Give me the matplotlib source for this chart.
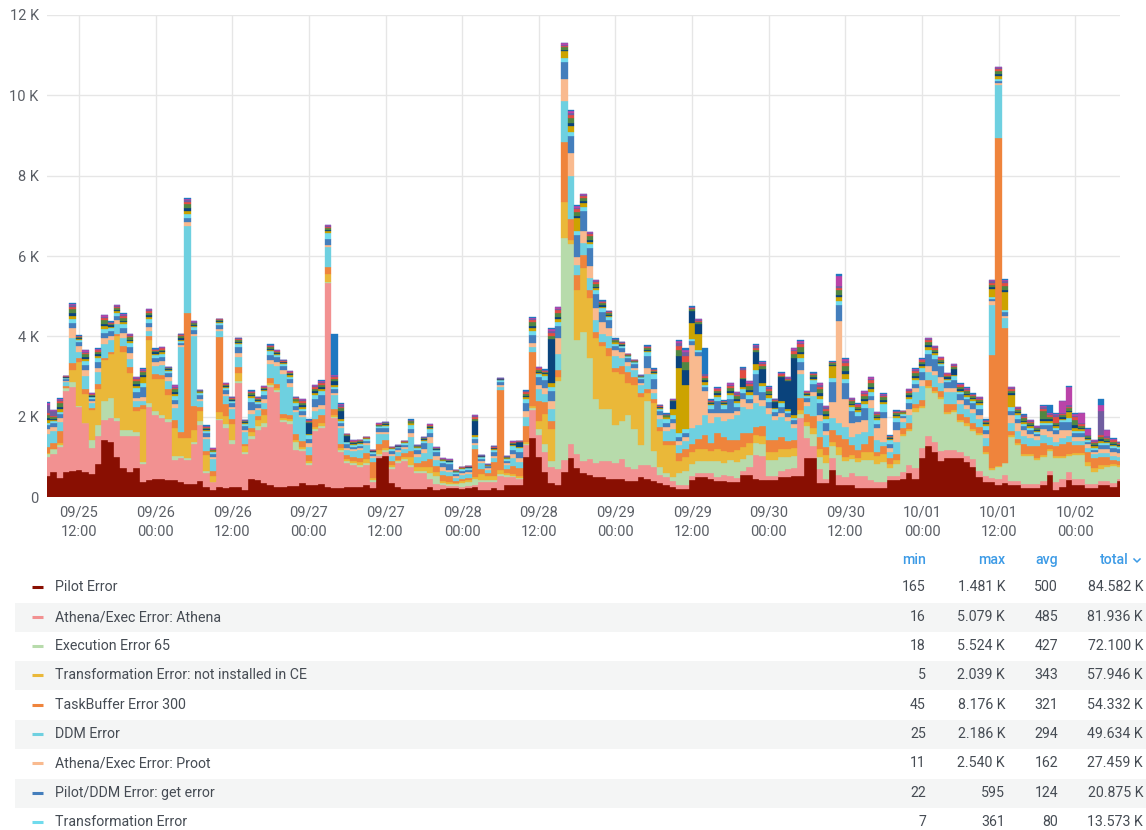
import matplotlib
matplotlib.use("Agg")
import matplotlib.pyplot as plt
import matplotlib.dates as mdates
from matplotlib.ticker import MultipleLocator, FuncFormatter
from matplotlib.patches import Rectangle
from matplotlib.lines import Line2D
import numpy as np
import pandas as pd

plt.rcParams['font.family'] = ['Roboto', 'DejaVu Sans']

# ---------------- data (hourly bars) ----------------
times = pd.date_range("2023-09-25 07:00", periods=169, freq="h")

pilot_error = [
 520,610,480,630,650,670,630,570,810,1420,
 1360,990,710,630,710,380,420,440,460,420,
 420,380,320,320,400,240,165,240,220,260,
 260,170,440,420,350,300,250,260,270,270,
 350,300,300,330,250,220,230,250,250,250,
 300,220,960,1030,350,250,200,200,200,200,
 250,180,200,220,220,200,220,250,170,170,
 230,170,300,300,300,1000,1481,1000,620,350,
 300,630,960,710,600,550,500,500,450,450,
 450,400,400,500,450,400,350,300,250,200,
 200,420,500,500,450,400,400,380,380,550,
 550,450,420,420,420,500,500,520,520,960,
 960,340,340,670,300,300,300,220,220,220,
 220,220,420,420,460,600,460,960,1270,1130,
 900,960,960,960,880,750,500,380,380,300,
 340,300,300,220,220,220,300,550,170,260,
 420,300,300,220,220,300,300,260,400]

athena_error = [
 480,460,770,2000,2090,1580,1200,650,700,500,
 600,900,800,900,800,450,1830,1600,1500,1450,
 500,600,600,1000,1400,350,200,1680,1500,1050,
 2570,900,1000,1250,1400,2440,2370,1610,1550,900,
 800,500,1350,1400,5079,1750,900,600,550,500,
 500,150,50,100,350,600,700,550,400,400,
 200,150,100,50,50,50,50,50,200,200,
 150,350,200,200,150,300,680,550,500,400,
 400,290,370,350,300,400,350,400,450,400,
 500,350,300,300,350,350,200,200,150,100,
 100,100,100,100,150,100,150,150,100,100,
 200,600,600,100,100,150,200,200,1450,500,
 300,350,100,300,250,200,300,300,300,200,
 150,150,100,100,150,200,250,250,250,250,
 250,200,200,150,150,200,150,150,100,150,
 200,100,100,100,100,100,100,100,200,200,
 200,150,150,100,100,100,100,100,50]

execution_65 = [
 70,120,50,80,130,20,20,200,280,460,
 500,80,150,150,120,50,100,100,80,80,
 100,50,50,50,100,50,20,30,100,100,
 50,50,80,100,100,50,50,50,80,200,
 50,50,50,50,20,20,50,50,50,50,
 50,50,50,50,50,50,50,50,50,50,
 150,200,50,50,50,100,100,150,50,50,
 50,50,50,30,30,30,50,150,200,150,
 2200,5524,4980,2850,3200,2500,1600,1300,1300,950,
 950,1300,1000,500,1600,400,200,100,100,300,
 350,300,300,300,300,400,300,400,400,300,
 300,300,300,400,400,350,300,300,100,300,
 300,300,400,300,500,400,350,350,400,500,
 450,500,200,300,900,850,1400,1000,1200,1200,
 1300,900,950,750,750,700,900,550,200,300,
 300,1100,900,700,700,600,600,500,600,500,
 400,600,600,450,300,300,350,400,300]

trans_not_installed = [
 30,5,50,5,300,1100,720,750,900,1040,
 1100,2039,1950,1400,500,1300,1550,800,900,600,
 700,450,500,300,250,400,150,170,200,400,
 200,150,100,150,200,50,50,50,50,50,
 50,50,50,50,200,50,50,50,50,80,
 100,50,100,50,50,30,50,200,100,100,
 150,100,50,50,30,50,50,50,150,100,
 100,100,50,50,50,50,50,200,750,800,
 100,910,100,1240,1600,1500,1500,1550,1300,1300,
 1150,800,1100,1200,200,1200,900,700,800,300,
 350,300,300,300,250,300,300,200,300,300,
 300,200,200,200,200,200,200,200,100,100,
 150,200,200,100,200,100,100,100,200,200,
 200,200,100,100,50,50,100,50,50,50,
 50,50,50,50,50,50,50,50,50,10,
 10,50,50,50,50,50,50,50,50,50,
 50,50,50,100,100,100,50,50,50]

taskbuffer_300 = [
 150,150,300,50,170,100,120,50,120,50,
 50,50,150,150,100,120,120,120,100,150,
 200,150,3100,600,100,100,100,1870,300,120,
 150,50,100,100,150,120,100,100,100,150,
 150,150,200,200,180,150,100,100,100,100,
 150,400,150,200,100,80,100,150,100,150,
 200,150,150,150,50,50,50,700,120,80,
 350,2000,100,200,200,400,1360,500,300,200,
 150,1490,500,370,330,200,150,100,200,120,
 200,250,200,100,100,100,100,100,100,200,
 200,200,250,350,200,400,350,300,250,350,
 250,200,250,300,300,300,200,200,300,200,
 300,300,200,300,300,450,250,200,200,400,
 100,200,150,150,150,150,100,150,150,100,
 150,200,150,150,150,150,150,150,2800,8176,
 3350,100,100,250,200,300,300,100,250,300,
 300,200,200,250,250,200,200,100,100]

ddm_error = [
 330,290,220,100,620,150,330,120,300,350,
 300,250,200,200,150,100,120,200,250,200,
 300,2100,2186,1750,150,300,300,150,200,250,
 250,300,350,150,150,350,450,1000,700,550,
 600,200,200,150,500,350,400,120,150,200,
 200,100,250,150,120,100,100,350,150,200,
 400,150,100,100,80,100,100,100,150,80,
 100,70,100,200,150,200,120,300,200,300,
 400,1010,1080,250,300,300,300,200,300,300,
 200,150,150,200,350,150,200,250,300,200,
 200,400,350,500,500,400,400,500,600,650,
 600,600,500,650,500,500,500,300,600,200,
 500,400,300,300,300,300,200,400,300,700,
 300,100,150,300,150,200,300,350,200,300,
 200,300,300,250,200,250,200,200,1250,1330,
 250,200,200,200,200,150,200,200,100,150,
 150,100,100,100,100,100,100,100,100]

proot_error = [
 120,100,100,30,250,150,150,50,100,150,
 100,100,120,150,80,100,80,100,100,100,
 100,50,100,50,50,50,50,50,50,50,
 100,50,100,50,100,100,100,100,100,50,
 50,100,100,100,50,50,50,50,50,50,
 50,50,50,50,50,50,50,100,80,100,
 150,100,100,50,50,50,50,50,50,30,
 50,50,50,100,100,150,100,100,150,200,
 400,560,580,210,300,300,300,300,200,150,
 150,100,50,50,150,100,100,100,150,100,
 100,2070,1700,600,250,100,200,150,100,200,
 150,200,150,150,100,100,100,100,100,100,
 100,150,100,400,2540,700,350,300,300,200,
 300,600,100,300,100,150,100,150,150,100,
 150,100,100,100,100,100,100,100,100,50,
 50,200,200,150,100,100,150,150,200,200,
 150,100,100,100,50,100,100,100,100]

get_error = [
 100,100,100,40,120,80,120,60,150,120,
 120,100,120,150,150,250,120,100,100,80,
 100,50,100,100,100,100,80,100,100,100,
 150,100,200,100,100,120,120,100,100,100,
 100,100,200,250,150,100,50,100,50,50,
 50,50,100,100,80,50,50,100,100,150,
 100,80,100,150,50,50,50,100,50,50,
 100,70,50,100,150,200,200,200,200,250,
 300,410,410,550,500,450,350,250,200,100,
 100,100,100,100,300,250,100,100,100,100,
 100,100,100,100,100,300,100,350,100,150,
 100,500,200,150,100,150,100,100,200,100,
 200,300,200,500,400,400,300,150,300,100,
 100,150,100,200,50,150,100,200,300,300,
 250,150,200,150,150,150,150,100,50,50,
 100,100,100,100,100,50,100,150,100,200,
 200,100,100,50,50,100,100,100,100]

trans_error = [
 50,50,50,30,100,50,100,30,100,100,
 80,70,100,100,100,100,100,80,70,60,
 100,50,100,50,50,50,50,50,50,50,
 80,50,100,50,100,100,50,50,50,80,
 50,100,100,100,150,50,50,50,50,50,
 50,50,50,50,50,30,50,100,50,50,
 100,50,50,50,30,50,50,50,50,20,
 50,50,50,100,100,100,100,50,100,100,
 100,100,100,80,100,100,100,100,80,50,
 50,50,50,30,100,100,50,100,100,100,
 100,50,50,50,80,100,80,100,100,100,
 100,100,150,100,80,100,50,50,100,50,
 100,100,100,100,100,100,100,100,100,100,
 100,200,100,100,50,100,100,100,100,100,
 50,50,100,50,50,50,100,100,50,50,
 50,100,100,50,50,50,50,50,50,50,
 100,50,50,50,50,50,50,50,50]

# smaller series (not visible in the cropped legend)
other_olive = [
 60,30,70,10,80,30,50,20,50,70,
 30,40,50,50,60,150,50,30,40,20,
 50,40,70,30,10,30,20,20,20,20,
 30,20,40,30,20,30,20,20,30,30,
 50,30,50,60,40,40,50,10,20,20,
 10,10,10,20,10,10,10,30,10,20,
 20,20,10,10,10,10,10,50,10,10,
 20,10,10,20,10,50,70,40,30,100,
 80,170,150,330,80,60,50,40,30,30,
 20,10,10,10,40,30,20,30,150,1600,
 1100,400,400,60,30,50,30,60,60,30,
 70,150,60,60,20,30,30,80,90,30,
 40,80,70,300,90,100,40,40,60,70,
 40,50,20,40,20,50,60,50,60,50,
 40,40,30,40,50,40,40,30,200,60,
 450,300,40,50,40,30,40,40,40,40,
 150,80,40,30,40,50,30,40,30]

other_navy = [
 50,20,50,10,60,20,40,20,40,50,
 30,30,40,40,40,40,40,30,30,20,
 40,30,60,30,10,20,20,20,20,20,
 30,20,30,20,20,30,20,10,20,20,
 40,250,40,40,30,120,200,150,20,20,
 10,10,10,10,10,10,10,20,10,20,
 20,10,10,10,10,10,10,350,10,5,
 10,10,10,20,120,30,50,30,30,1080,
 60,40,80,60,50,50,40,30,30,20,
 20,10,10,10,30,20,10,20,200,300,
 350,300,250,50,20,30,20,50,40,200,
 50,300,350,40,150,600,700,1400,60,20,
 30,60,50,20,60,80,30,30,50,60,
 30,40,20,30,10,40,40,40,50,30,
 30,30,150,30,40,30,30,20,40,50,
 50,30,30,30,30,20,40,40,30,30,
 30,60,30,20,30,40,20,30,20]

other_green = [
 90,50,90,10,100,30,70,20,60,90,
 40,50,70,60,80,60,60,40,40,20,
 70,50,110,40,20,40,20,20,30,30,
 40,20,50,30,30,40,30,20,30,40,
 60,40,60,70,50,50,80,20,30,20,
 10,10,20,20,10,10,10,30,20,20,
 30,20,20,20,20,10,10,50,10,5,
 20,10,20,30,20,60,90,50,40,90,
 100,60,120,100,80,80,70,50,40,30,
 30,20,20,10,40,40,20,30,10,150,
 220,40,50,60,40,60,30,80,80,40,
 90,70,70,80,30,40,40,100,110,30,
 50,110,90,40,110,130,60,60,80,100,
 50,70,30,50,20,60,80,60,80,60,
 50,40,50,60,60,40,50,40,70,80,
 100,60,50,60,50,40,200,60,60,50,
 60,120,60,40,50,60,50,50,30]

other_red = [
 40,30,50,10,60,20,40,20,40,50,
 20,30,40,40,40,40,40,20,30,20,
 40,30,60,20,10,20,20,20,20,20,
 20,20,30,20,20,30,20,20,20,20,
 40,20,40,40,30,30,40,10,20,20,
 10,10,10,20,10,10,10,20,10,20,
 20,10,10,10,10,10,10,30,10,5,
 20,10,10,20,10,40,50,30,20,70,
 60,40,80,60,50,50,40,30,20,20,
 20,10,10,10,30,20,20,20,10,120,
 150,30,40,50,20,40,20,50,40,200,
 50,50,60,40,20,30,30,80,70,20,
 30,60,50,20,60,80,40,30,50,60,
 30,40,20,30,20,40,40,40,50,40,
 30,30,30,40,40,30,30,20,50,50,
 70,40,30,40,30,20,60,40,150,30,
 40,70,30,20,30,40,30,30,20]

other_purple = [
 200,120,30,5,40,10,30,10,20,40,
 20,20,30,20,30,30,30,20,20,10,
 30,20,40,20,5,20,10,10,10,10,
 20,10,20,10,10,20,10,10,20,20,
 30,20,20,30,20,30,40,5,10,10,
 5,5,10,10,5,5,5,10,5,10,
 10,10,5,10,5,5,5,30,5,5,
 10,5,10,10,5,20,30,20,20,50,
 40,30,60,40,30,30,30,20,20,10,
 10,10,5,5,20,20,10,10,5,60,
 80,20,20,30,20,20,10,30,30,30,
 40,40,30,30,10,20,20,40,40,10,
 20,40,30,10,50,50,20,20,40,40,
 20,30,10,20,10,30,30,20,30,20,
 20,20,20,20,30,20,20,20,30,30,
 50,30,20,30,20,20,40,30,40,20,
 30,40,20,20,30,600,30,20,10]

other_magenta = [
 50,20,30,5,30,10,30,10,20,30,
 10,20,30,20,30,20,20,10,10,10,
 30,10,30,10,5,10,10,10,10,10,
 10,10,10,10,10,10,10,10,10,10,
 20,10,20,30,20,20,30,5,10,10,
 5,5,10,10,5,5,5,10,5,10,
 10,10,5,10,5,5,5,20,5,0,
 10,5,10,10,5,20,30,10,10,40,
 30,30,50,40,20,20,20,20,10,10,
 10,10,5,5,10,10,10,10,5,50,
 70,10,20,20,10,20,10,30,30,20,
 30,30,30,30,10,20,10,40,40,10,
 10,40,30,10,250,50,20,20,30,30,
 20,20,10,10,10,20,30,20,20,20,
 10,10,10,20,20,10,20,10,30,20,
 40,20,20,20,20,10,40,30,30,300,
 450,50,250,150,20,150,150,20,10]

other_blue = [
 30,10,20,0,20,10,10,0,10,10,
 10,10,10,10,10,10,10,10,10,0,
 10,10,10,10,0,10,0,0,0,10,
 10,0,10,10,0,10,10,0,10,10,
 10,10,10,10,10,1040,10,0,10,0,
 0,0,0,0,0,0,0,10,0,0,
 10,0,0,0,0,0,0,10,0,0,
 0,0,0,10,0,10,10,10,10,20,
 10,10,20,20,10,10,10,10,10,10,
 0,0,0,0,10,10,0,10,0,20,
 30,10,10,650,10,10,10,10,10,10,
 10,10,10,10,10,10,10,10,20,10,
 10,10,10,10,40,10,10,10,10,10,
 10,10,10,10,0,10,10,10,10,10,
 10,10,10,10,10,10,10,10,10,10,
 10,10,10,10,10,10,20,200,10,20,
 30,10,20,10,10,160,10,10,10]

legend_names = ["Pilot Error", "Athena/Exec Error: Athena", "Execution Error 65",
                "Transformation Error: not installed in CE", "TaskBuffer Error 300",
                "DDM Error", "Athena/Exec Error: Proot", "Pilot/DDM Error: get error",
                "Transformation Error"]
legend_min = ["165", "16", "18", "5", "45", "25", "11", "22", "7"]
legend_max = ["1.481 K", "5.079 K", "5.524 K", "2.039 K", "8.176 K", "2.186 K",
              "2.540 K", "595", "361"]
legend_avg = ["500", "485", "427", "343", "321", "294", "162", "124", "80"]
legend_total = ["84.582 K", "81.936 K", "72.100 K", "57.946 K", "54.332 K",
                "49.634 K", "27.459 K", "20.875 K", "13.573 K"]

main_series = [pilot_error, athena_error, execution_65, trans_not_installed,
               taskbuffer_300, ddm_error, proot_error, get_error, trans_error]
main_colors = ["#890F02", "#F29191", "#B7DBAB", "#EAB839", "#EF843C",
               "#6ED0E0", "#F9BA8F", "#447EBC", "#70DBED"]
other_series = [other_olive, other_navy, other_green, other_red,
                other_purple, other_magenta, other_blue]
other_colors = ["#CCA300", "#0A437C", "#508642", "#E24D42",
                "#705DA0", "#BA43A9", "#1F78C1"]

# ---------------- figure ----------------
W, H = 1146, 830
fig = plt.figure(figsize=(W / 100, H / 100), dpi=100)
fig.patch.set_facecolor("white")

def fx(px):
    return px / W

def fy(py):
    return 1 - py / H

ax = fig.add_axes([fx(47), fy(497), fx(1120) - fx(47), fy(15) - fy(497)])
ax.set_facecolor("white")

width = 1.0 / 24.0
bottom = np.zeros(len(times))
for vals, col in zip(main_series + other_series, main_colors + other_colors):
    v = np.array(vals, dtype=float)
    ax.bar(times, v, width=width, bottom=bottom, color=col, edgecolor=col,
           linewidth=0.25, align="center", zorder=2)
    bottom += v

ax.set_xlim(times[0], times[-1])
ax.set_ylim(0, 12000)
ax.yaxis.set_major_locator(MultipleLocator(2000))
ax.yaxis.set_major_formatter(FuncFormatter(
    lambda v, p: "0" if v == 0 else f"{v / 1000:g} K"))
ax.xaxis.set_major_locator(mdates.HourLocator(byhour=[0, 12]))
ax.xaxis.set_major_formatter(mdates.DateFormatter("%m/%d\n%H:%M"))

ax.grid(True, color="#e6e6e6", linewidth=1.0, zorder=0)
ax.set_axisbelow(True)
for s in ax.spines.values():
    s.set_visible(False)
ax.tick_params(axis="both", length=0, colors="#5b5f66", labelsize=10.5)
ax.tick_params(axis="x", pad=6)
ax.tick_params(axis="y", pad=6)
for lab in ax.get_xticklabels():
    lab.set_linespacing(1.5)

# ---------------- legend table ----------------
row_y = [587, 617, 646, 675, 705, 734, 763, 793, 822]
row_h = 29
text_col = "#464c54"
head_col = "#3d9be6"

for i, y in enumerate(row_y):
    if i % 2 == 1:
        fig.patches.append(Rectangle((fx(15), fy(y + row_h / 2)), fx(1146) - fx(15),
                                     row_h / H, transform=fig.transFigure,
                                     facecolor="#f4f5f5", edgecolor="none", zorder=0))

fs = 10.2
fig.text(fx(926), fy(560), "min", ha="right", va="center", color=head_col,
         fontsize=fs, fontweight="medium")
fig.text(fx(1005), fy(560), "max", ha="right", va="center", color=head_col,
         fontsize=fs, fontweight="medium")
fig.text(fx(1058), fy(560), "avg", ha="right", va="center", color=head_col,
         fontsize=fs, fontweight="medium")
fig.text(fx(1129), fy(560), "total", ha="right", va="center", color=head_col,
         fontsize=fs, fontweight="medium")
fig.lines.append(Line2D([fx(1134), fx(1137), fx(1140)], [fy(559), fy(562), fy(559)],
                        transform=fig.transFigure, color=head_col, linewidth=1.1))

for i, y in enumerate(row_y):
    fig.lines.append(Line2D([fx(32), fx(43)], [fy(y), fy(y)], transform=fig.transFigure,
                            color=main_colors[i], linewidth=2.2, solid_capstyle="butt"))
    fig.text(fx(55), fy(y), legend_names[i], ha="left", va="center",
             color=text_col, fontsize=fs)
    fig.text(fx(926), fy(y), legend_min[i], ha="right", va="center", color=text_col, fontsize=fs)
    fig.text(fx(1005), fy(y), legend_max[i], ha="right", va="center", color=text_col, fontsize=fs)
    fig.text(fx(1058), fy(y), legend_avg[i], ha="right", va="center", color=text_col, fontsize=fs)
    fig.text(fx(1143), fy(y), legend_total[i], ha="right", va="center", color=text_col, fontsize=fs)

fig.savefig("out.png", dpi=100, facecolor="white")
